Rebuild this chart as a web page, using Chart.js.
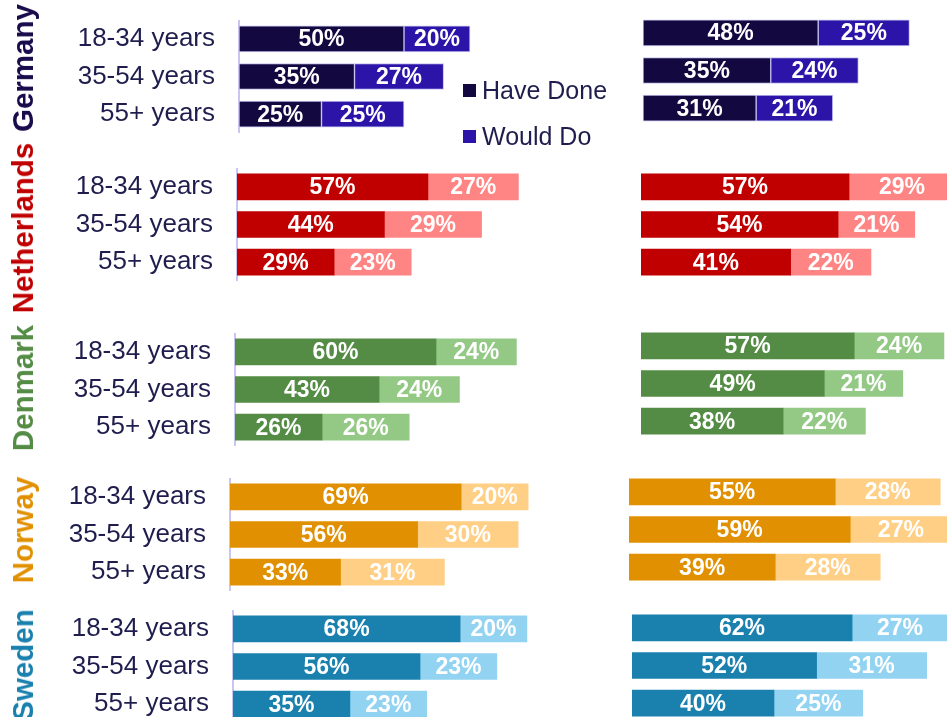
<!DOCTYPE html>
<html>
<head>
<meta charset="utf-8">
<script src="https://cdn.jsdelivr.net/npm/chart.js@4/dist/chart.umd.min.js"></script>
<style>
  html, body { margin: 0; padding: 0; background: #fff; }
  body { width: 947px; height: 717px; overflow: hidden; position: relative; font-family: "Liberation Sans", Arial, sans-serif; }
  canvas.panel { position: absolute; }
  .country {
    position: absolute; font-weight: bold; font-size: 29.5px; white-space: nowrap;
    transform: translate(-50%, -50%) rotate(-90deg); left: 23px;
  }
  .legend { position: absolute; left: 463px; font-size: 25px; color: #1f1d4d; white-space: nowrap; }
  .legend span.box { display: inline-block; width: 13px; height: 13px; margin-right: 6px; vertical-align: middle; position: relative; top: -2px; }
</style>
</head>
<body>
<script>
const ageGroups = ['18-34 years', '35-54 years', '55+ years'];
const countries = ['Germany', 'Netherlands', 'Denmark', 'Norway', 'Sweden'];
const seriesNames = ['Have Done', 'Would Do'];

// left column
const haveDoneA = [[50, 35, 25], [57, 44, 29], [60, 43, 26], [69, 56, 33], [68, 56, 35]];
const wouldDoA = [[20, 27, 25], [27, 29, 23], [24, 24, 26], [20, 30, 31], [20, 23, 23]];
// right column
const haveDoneB = [[48, 35, 31], [57, 54, 41], [57, 49, 38], [55, 59, 39], [62, 52, 40]];
const wouldDoB = [[25, 24, 21], [29, 21, 22], [24, 21, 22], [28, 27, 28], [27, 31, 25]];

const darkColors = ['#140840', '#c00000', '#548c45', '#e09000', '#1a80ae'];
const lightColors = ['#2c14a8', '#ff8585', '#93c985', '#ffcf86', '#92d3f1'];
const countryColors = ['#1a0c4c', '#c00000', '#548c45', '#e09000', '#1a80ae'];

// panel geometry: axis x, chart top, px per percent
const leftAxisX = [239, 237, 235, 230, 233];
const leftTop = [20, 168, 333, 478, 610];
const leftScale = [3.3, 3.35, 3.35, 3.35, 3.34];
const rightAxisX = [643, 641, 641, 629, 632];
const rightTop = [14, 168, 327, 473, 609];
const rightScale = [3.65, 3.65, 3.74, 3.75, 3.55];
const countryCenterY = [68, 228, 388, 530, 665];

Chart.defaults.font.family = '"Liberation Sans", Arial, sans-serif';
Chart.defaults.animation = false;

const segmentLabels = {
  id: 'segmentLabels',
  afterDatasetsDraw(chart) {
    const { ctx } = chart;
    ctx.save();
    ctx.font = 'bold 23px "Liberation Sans", Arial, sans-serif';
    ctx.fillStyle = '#ffffff';
    ctx.textAlign = 'center';
    ctx.textBaseline = 'middle';
    chart.data.datasets.forEach((ds, i) => {
      chart.getDatasetMeta(i).data.forEach((bar, j) => {
        ctx.fillText(ds.data[j] + '%', (bar.x + bar.base) / 2, bar.y + 1);
      });
    });
    ctx.restore();
  }
};

function makePanel(idx, done, would, axisX, top, scale, withLabels) {
  const chartHeight = 113;
  const plotWidth = withLabels ? 335 : 320;
  const left = withLabels ? 0 : axisX;
  const width = withLabels ? axisX + plotWidth : plotWidth;

  const canvas = document.createElement('canvas');
  canvas.className = 'panel';
  canvas.width = width;
  canvas.height = chartHeight;
  canvas.style.left = left + 'px';
  canvas.style.top = top + 'px';
  canvas.style.width = width + 'px';
  canvas.style.height = chartHeight + 'px';
  document.body.appendChild(canvas);

  const edge = idx === 0 ? 'rgba(190,190,240,0.9)' : 'rgba(255,255,255,0)';

  const yAxis = {
    stacked: true,
    display: withLabels,
    grid: { display: false, drawTicks: false },
    border: { display: withLabels, color: '#c9c6f2', width: 2 },
    ticks: { color: '#1f1d4d', font: { size: 26 }, padding: 24 }
  };
  if (withLabels) {
    yAxis.afterFit = (axis) => {
      axis.width = axisX;
      axis.paddingTop = 0;
      axis.paddingBottom = 0;
    };
  }

  new Chart(canvas, {
    type: 'bar',
    data: {
      labels: ageGroups,
      datasets: [
        { label: seriesNames[0], data: done, backgroundColor: darkColors[idx], borderColor: edge, borderWidth: idx === 0 ? 1 : 0, borderSkipped: false, barThickness: 26 },
        { label: seriesNames[1], data: would, backgroundColor: lightColors[idx], borderColor: edge, borderWidth: idx === 0 ? 1 : 0, borderSkipped: false, barThickness: 26 }
      ]
    },
    options: {
      indexAxis: 'y',
      responsive: false,
      devicePixelRatio: 1,
      layout: { padding: 0 },
      plugins: { legend: { display: false }, tooltip: { enabled: false } },
      scales: {
        x: {
          stacked: true,
          display: false,
          min: 0,
          max: plotWidth / scale
        },
        y: yAxis
      }
    },
    plugins: [segmentLabels]
  });
}

countries.forEach((name, i) => {
  makePanel(i, haveDoneA[i], wouldDoA[i], leftAxisX[i], leftTop[i], leftScale[i], true);
  makePanel(i, haveDoneB[i], wouldDoB[i], rightAxisX[i], rightTop[i], rightScale[i], false);

  const label = document.createElement('div');
  label.className = 'country';
  label.textContent = name;
  label.style.color = countryColors[i];
  label.style.top = countryCenterY[i] + 'px';
  document.body.appendChild(label);
});

// legend
[91, 137].forEach((y, i) => {
  const item = document.createElement('div');
  item.className = 'legend';
  item.style.top = (y - 15) + 'px';
  item.innerHTML = `<span class="box" style="background:${i === 0 ? darkColors[0] : lightColors[0]}"></span>${seriesNames[i]}`;
  document.body.appendChild(item);
});
</script>
</body>
</html>
